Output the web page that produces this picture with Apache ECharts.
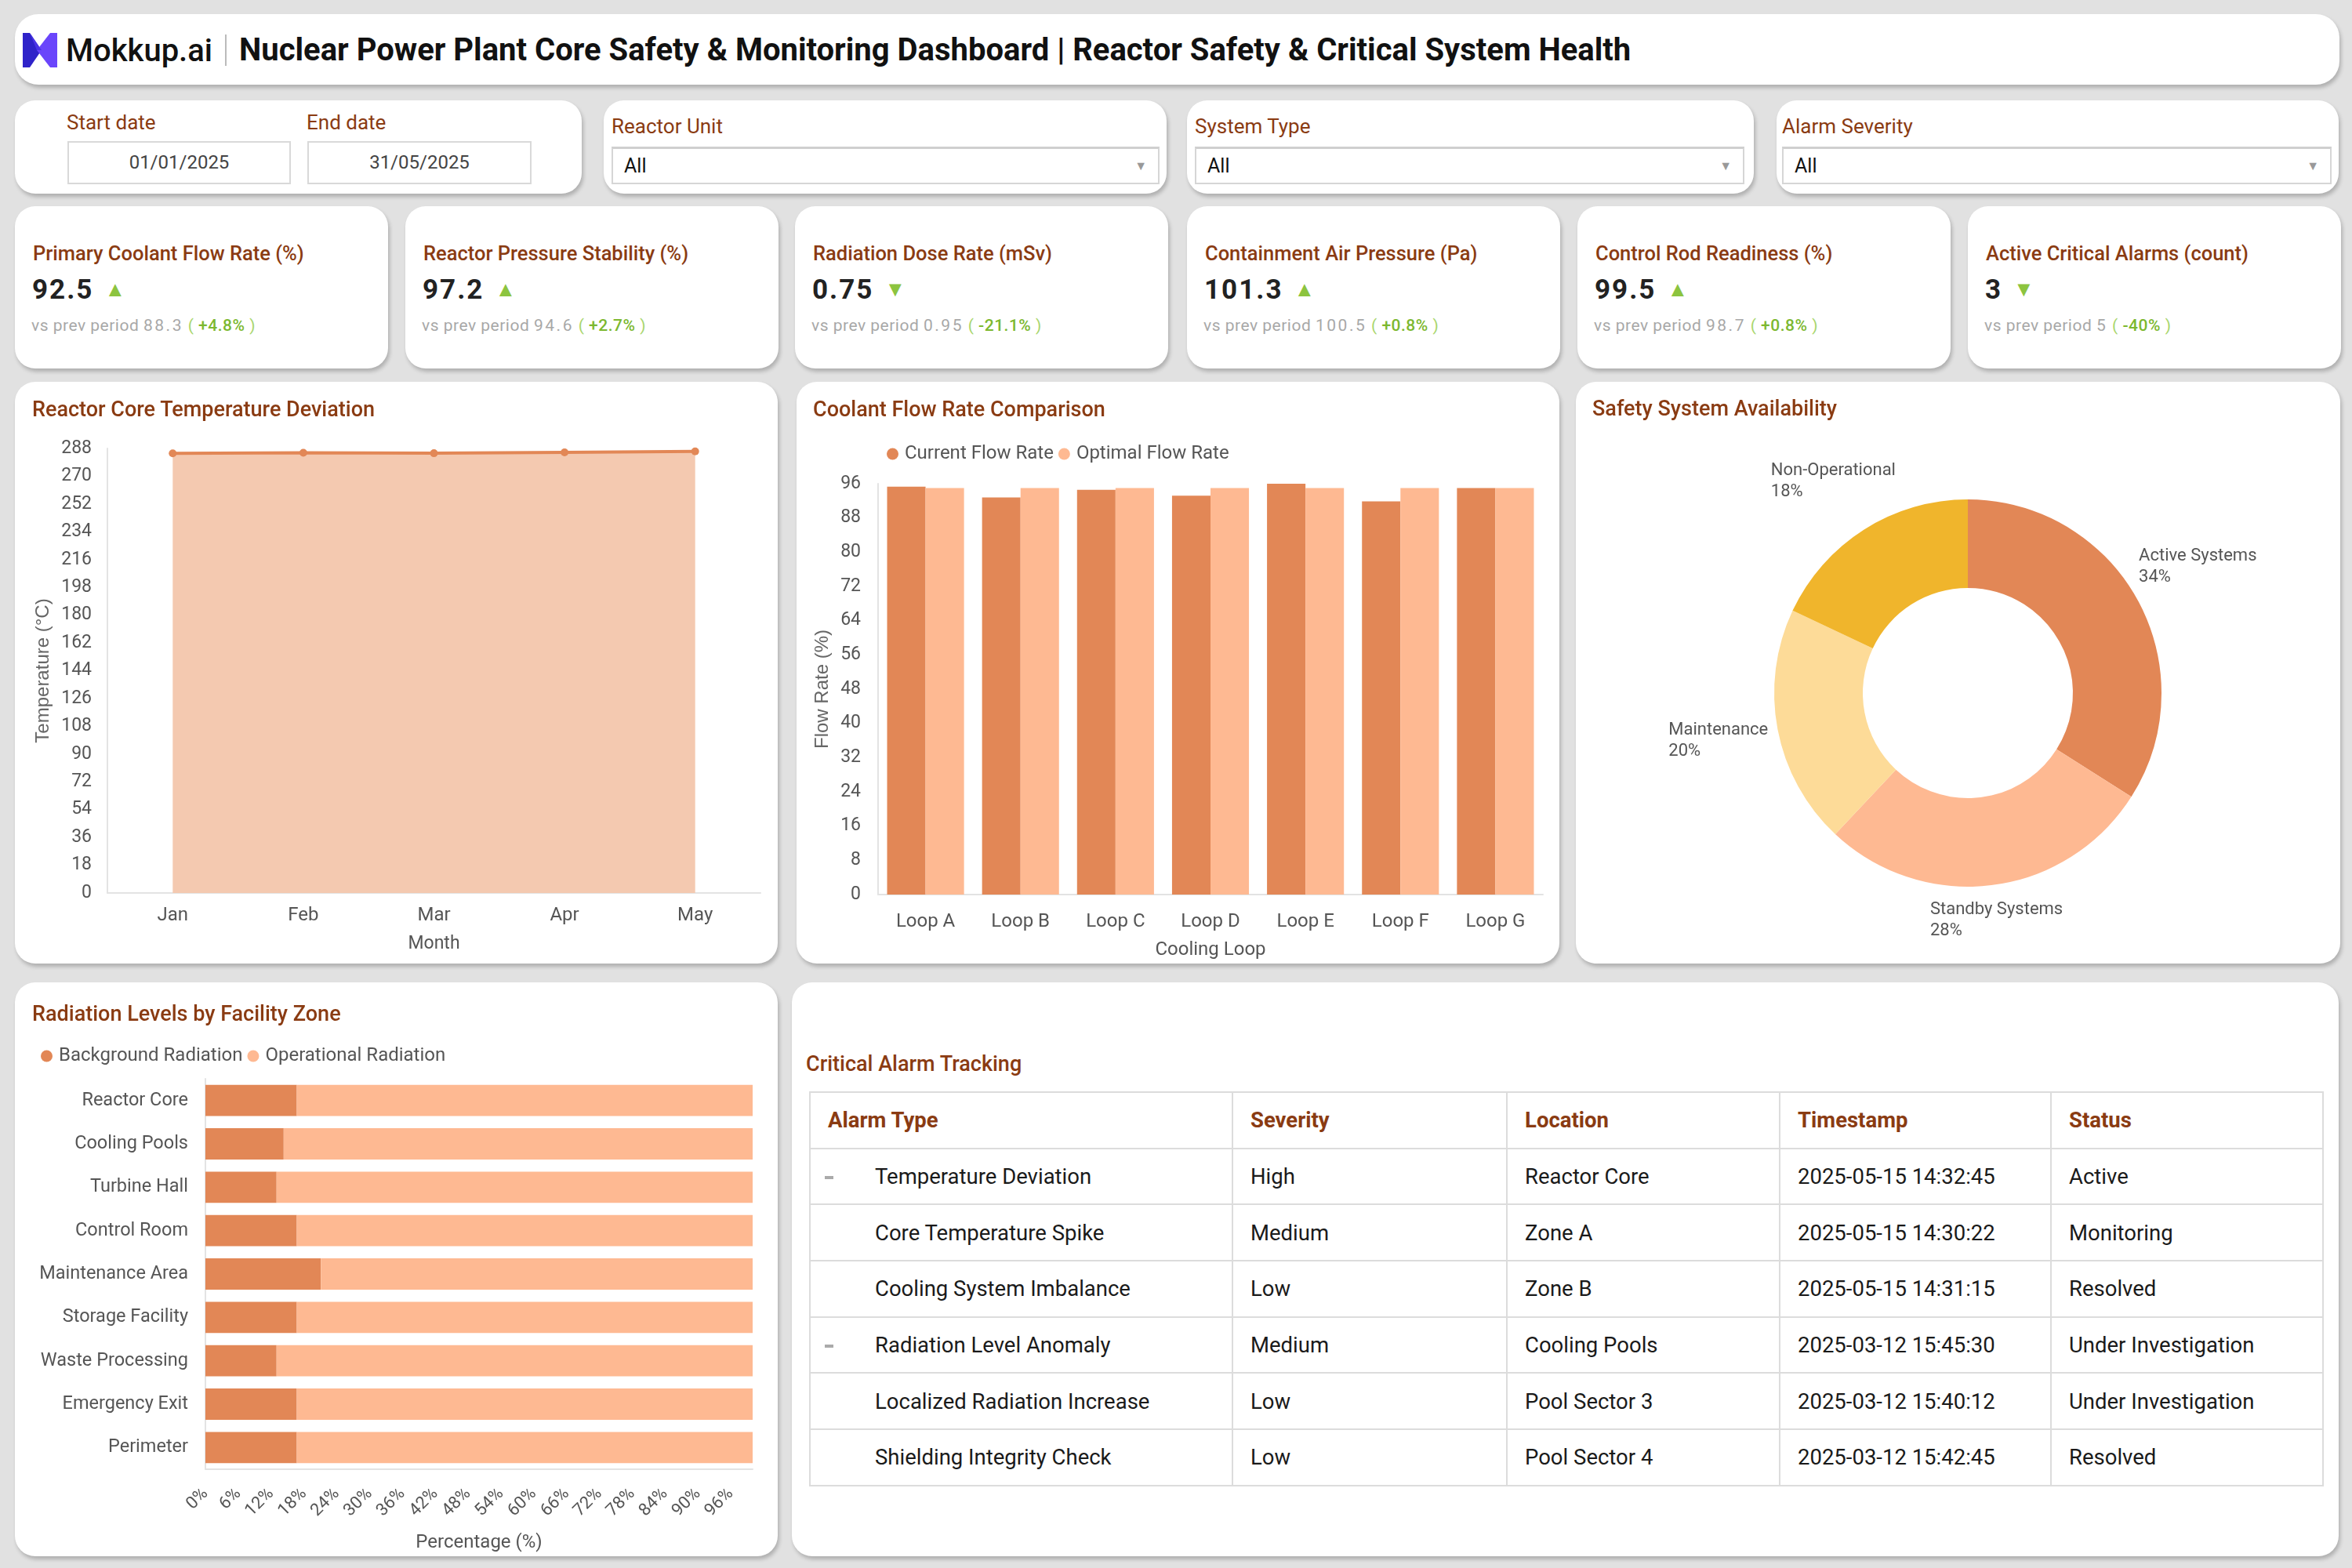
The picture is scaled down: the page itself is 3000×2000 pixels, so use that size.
<!DOCTYPE html>
<html><head><meta charset="utf-8">
<script src="https://cdn.jsdelivr.net/npm/echarts@6/dist/echarts.min.js"></script>
<style>
*{box-sizing:border-box;margin:0;padding:0}
html,body{width:3000px;height:2000px;background:#e1e1e1;font-family:Roboto,sans-serif;overflow:hidden;position:relative}
.card{position:absolute;background:#fff;border-radius:26px;box-shadow:2px 4px 5px rgba(0,0,0,0.22)}
.flabel{position:absolute;font-size:26px;color:#8a3b12;line-height:30px;white-space:nowrap}
.dbox{position:absolute;height:55px;border:2px solid #d9d9d9;font-size:24px;color:#444;text-align:center;line-height:51px}
.sel{position:absolute;height:48px;border:2px solid #d6d6d6;border-top:3px solid #cfcfcf;font-size:25px;color:#111;line-height:44px;padding-left:14px}
.sel .arr{position:absolute;right:14px;top:0;font-size:16px;color:#999}
.ktitle{position:absolute;left:23px;top:46px;font-size:25.5px;font-weight:500;color:#8a3b12;line-height:28px;white-space:nowrap}
.kval{position:absolute;left:22px;top:87px;font-size:35px;font-weight:700;color:#222;line-height:38px;letter-spacing:2px;white-space:nowrap}
.kval .tri{font-size:27px;color:#8cc43f;margin-left:14px;vertical-align:3px;letter-spacing:0}
.ksub{position:absolute;left:21px;top:140px;font-size:21px;color:#a8a8a8;line-height:24px;white-space:nowrap;letter-spacing:0.5px}
.ksub .num{letter-spacing:2.5px}
.ksub .par{color:#a9d66e}
.ksub .chg{color:#7cb82f;font-weight:500;letter-spacing:0.5px}
.ctitle{position:absolute;font-size:27px;font-weight:500;color:#8a3b12;line-height:30px;white-space:nowrap;z-index:2}
.chart{position:absolute;left:0;top:0}
table{border-collapse:collapse;position:absolute;table-layout:fixed}
td,th{border:2px solid #dcdcdc;font-size:27.5px;color:#1a1a1a;text-align:left;font-weight:400;white-space:nowrap;padding-left:22px;position:relative}
th{color:#8a3b12;font-weight:700;height:71.5px}
td{height:71.7px}
td.first{padding-left:82px}
.dash{position:absolute;left:18px;top:34px;width:11px;height:4px;background:#aaa}
</style>
</head><body>

<!-- Header -->
<div class="card" style="left:19px;top:18px;width:2965px;height:90px;border-radius:30px">
  <svg style="position:absolute;left:10px;top:24px" width="44" height="44" viewBox="0 0 44 44">
    <polygon points="0,0 9,0 24,22 9,44 0,44" fill="#2f23c9"/>
    <polygon points="44,0 35,0 18,22 35,44 44,44" fill="#6a45fb"/>
    <polygon points="9,0 24,22 18,22" fill="#4a34e6"/>
  </svg>
  <div style="position:absolute;left:65px;top:23px;font-size:40px;font-weight:500;color:#111;line-height:48px">Mokkup.ai</div>
  <div style="position:absolute;left:268px;top:26px;width:2px;height:40px;background:#bbb"></div>
  <div style="position:absolute;left:286px;top:22px;font-size:40px;font-weight:700;color:#111;line-height:48px;white-space:nowrap">Nuclear Power Plant Core Safety &amp; Monitoring Dashboard | Reactor Safety &amp; Critical System Health</div>
</div>

<!-- Filters -->
<div class="card" style="left:19px;top:128px;width:723px;height:119px">
  <div class="flabel" style="left:66px;top:13px">Start date</div>
  <div class="flabel" style="left:372px;top:13px">End date</div>
  <div class="dbox" style="left:67px;top:52px;width:285px">01/01/2025</div>
  <div class="dbox" style="left:373px;top:52px;width:286px">31/05/2025</div>
</div>
<div id="filters"></div>

<!-- KPIs -->
<div id="kpis"></div>

<!-- Chart cards -->
<div class="card" style="left:19px;top:487px;width:973px;height:742px">
  <div class="ctitle" style="left:22px;top:20px">Reactor Core Temperature Deviation</div>
  <div id="c1" class="chart" style="width:973px;height:742px"></div>
</div>
<div class="card" style="left:1016px;top:487px;width:973px;height:742px">
  <div class="ctitle" style="left:21px;top:20px">Coolant Flow Rate Comparison</div>
  <div id="c2" class="chart" style="width:973px;height:742px"></div>
</div>
<div class="card" style="left:2010px;top:487px;width:975px;height:742px">
  <div class="ctitle" style="left:21px;top:19px">Safety System Availability</div>
  <div id="c3" class="chart" style="width:975px;height:742px"></div>
</div>
<div class="card" style="left:19px;top:1253px;width:973px;height:732px">
  <div class="ctitle" style="left:22px;top:25px">Radiation Levels by Facility Zone</div>
  <div id="c4" class="chart" style="width:973px;height:732px"></div>
</div>
<div class="card" style="left:1010px;top:1253px;width:1973px;height:732px">
  <div class="ctitle" style="left:18px;top:89px">Critical Alarm Tracking</div>
  <div id="tbl"></div>
</div>

<script>
// ---------------- DATA ----------------
const filterLabels = ['Reactor Unit', 'System Type', 'Alarm Severity'];
const filterValues = ['All', 'All', 'All'];

const kpiTitles = ['Primary Coolant Flow Rate (%)', 'Reactor Pressure Stability (%)', 'Radiation Dose Rate (mSv)', 'Containment Air Pressure (Pa)', 'Control Rod Readiness (%)', 'Active Critical Alarms (count)'];
const kpiValues = ['92.5', '97.2', '0.75', '101.3', '99.5', '3'];
const kpiPrev = ['88.3', '94.6', '0.95', '100.5', '98.7', '5'];
const kpiChange = ['+4.8%', '+2.7%', '-21.1%', '+0.8%', '+0.8%', '-40%'];
const kpiUp = [true, true, false, true, true, false];

const months = ['Jan', 'Feb', 'Mar', 'Apr', 'May'];
const coreTemp = [284.8, 285.2, 284.9, 285.5, 286.1];

const loops = ['Loop A', 'Loop B', 'Loop C', 'Loop D', 'Loop E', 'Loop F', 'Loop G'];
const currentFlow = [95.3, 92.8, 94.6, 93.2, 96, 91.9, 95];
const optimalFlow = [95, 95, 95, 95, 95, 95, 95];

const safetyCats = ['Active Systems', 'Standby Systems', 'Maintenance', 'Non-Operational'];
const safetyVals = [34, 28, 20, 18];

const zones = ['Reactor Core', 'Cooling Pools', 'Turbine Hall', 'Control Room', 'Maintenance Area', 'Storage Facility', 'Waste Processing', 'Emergency Exit', 'Perimeter'];
const backgroundRad = [16.7, 14.3, 13.0, 16.7, 21.1, 16.7, 13.0, 16.7, 16.7];
const operationalRad = [83.3, 85.7, 87.0, 83.3, 78.9, 83.3, 87.0, 83.3, 83.3];

const tableHeaders = ['Alarm Type', 'Severity', 'Location', 'Timestamp', 'Status'];
const alarmTypes = ['Temperature Deviation', 'Core Temperature Spike', 'Cooling System Imbalance', 'Radiation Level Anomaly', 'Localized Radiation Increase', 'Shielding Integrity Check'];
const alarmParent = [true, false, false, true, false, false];
const alarmSeverity = ['High', 'Medium', 'Low', 'Medium', 'Low', 'Low'];
const alarmLocation = ['Reactor Core', 'Zone A', 'Zone B', 'Cooling Pools', 'Pool Sector 3', 'Pool Sector 4'];
const alarmTime = ['2025-05-15 14:32:45', '2025-05-15 14:30:22', '2025-05-15 14:31:15', '2025-03-12 15:45:30', '2025-03-12 15:40:12', '2025-03-12 15:42:45'];
const alarmStatus = ['Active', 'Monitoring', 'Resolved', 'Under Investigation', 'Under Investigation', 'Resolved'];

// ---------------- HTML PARTS ----------------
const filterBoxes = [
  {left: 770, width: 718, lx: 10, sx: 10, sw: 699},
  {left: 1514, width: 723, lx: 10, sx: 10, sw: 701},
  {left: 2266, width: 717, lx: 7, sx: 7, sw: 701}
];
let fh = '';
filterBoxes.forEach((b, i) => {
  fh += `<div class="card" style="left:${b.left}px;top:128px;width:${b.width}px;height:119px">
    <div class="flabel" style="left:${b.lx}px;top:18px">${filterLabels[i]}</div>
    <div class="sel" style="left:${b.sx}px;top:59px;width:${b.sw}px">${filterValues[i]}<span class="arr">&#9660;</span></div></div>`;
});
document.getElementById('filters').innerHTML = fh;

const kpiLefts = [19, 517, 1014, 1514, 2012, 2510];
let kh = '';
kpiTitles.forEach((t, i) => {
  kh += `<div class="card" style="left:${kpiLefts[i]}px;top:263px;width:476px;height:207px">
   <div class="ktitle">${t}</div>
   <div class="kval">${kpiValues[i]}<span class="tri">${kpiUp[i] ? '&#9650;' : '&#9660;'}</span></div>
   <div class="ksub">vs prev period <span class="num">${kpiPrev[i]}</span> <span class="par">(</span> <span class="chg">${kpiChange[i]}</span> <span class="par">)</span></div>
  </div>`;
});
document.getElementById('kpis').innerHTML = kh;

const colW = [539, 350, 348, 346, 347];
let th = '<table style="left:22px;top:139px;width:1930px"><colgroup>' + colW.map(w => `<col style="width:${w}px">`).join('') + '</colgroup><tr>';
tableHeaders.forEach(h => th += `<th>${h}</th>`);
th += '</tr>';
alarmTypes.forEach((a, i) => {
  th += `<tr><td class="first">${alarmParent[i] ? '<span class="dash"></span>' : ''}${a}</td><td>${alarmSeverity[i]}</td><td>${alarmLocation[i]}</td><td>${alarmTime[i]}</td><td>${alarmStatus[i]}</td></tr>`;
});
th += '</table>';
document.getElementById('tbl').innerHTML = th;

// ---------------- CHARTS ----------------
const C_DARK = '#e28756', C_LIGHT = '#feb992';
const FONT = 'Roboto';
const axisGrey = '#e3e3e3';

const c1 = echarts.init(document.getElementById('c1'));
c1.setOption({
  textStyle: {fontFamily: FONT},
  animation: false,
  grid: {left: 118, right: 22, top: 85, bottom: 90},
  xAxis: {
    type: 'category', data: months, boundaryGap: true,
    axisLine: {lineStyle: {color: axisGrey, width: 2}}, axisTick: {show: false},
    axisLabel: {color: '#555', fontSize: 24, margin: 17},
    name: 'Month', nameLocation: 'middle', nameGap: 54,
    nameTextStyle: {color: '#555', fontSize: 23}
  },
  yAxis: {
    type: 'value', min: 0, max: 288, interval: 18,
    axisLine: {show: true, lineStyle: {color: axisGrey, width: 2}}, splitLine: {show: false},
    axisLabel: {color: '#555', fontSize: 23, margin: 20},
    name: 'Temperature (°C)', nameLocation: 'middle', nameGap: 70,
    nameTextStyle: {color: '#666', fontSize: 24, fontFamily: 'Liberation Sans'}
  },
  series: [{
    type: 'line', data: coreTemp, symbol: 'circle', symbolSize: 10,
    lineStyle: {color: C_DARK, width: 4}, itemStyle: {color: C_DARK},
    areaStyle: {color: '#f4c9b0', opacity: 1}
  }]
});

const c2 = echarts.init(document.getElementById('c2'));
c2.setOption({
  textStyle: {fontFamily: FONT},
  animation: false,
  legend: {
    top: 75, left: 110, icon: 'circle', itemWidth: 15, itemHeight: 15, itemGap: 6,
    textStyle: {color: '#555', fontSize: 24, padding: [0, 0, 0, 3]},
    data: ['Current Flow Rate', 'Optimal Flow Rate']
  },
  grid: {left: 104, right: 21, top: 130, bottom: 85},
  xAxis: {
    type: 'category', data: loops,
    axisLine: {lineStyle: {color: axisGrey, width: 2}}, axisTick: {show: false},
    axisLabel: {color: '#555', fontSize: 24, margin: 23},
    name: 'Cooling Loop', nameLocation: 'middle', nameGap: 59,
    nameTextStyle: {color: '#555', fontSize: 24}
  },
  yAxis: {
    type: 'value', min: 0, max: 96, interval: 8,
    axisLine: {show: true, lineStyle: {color: axisGrey, width: 2}}, splitLine: {show: false},
    axisLabel: {color: '#555', fontSize: 23, margin: 22},
    name: 'Flow Rate (%)', nameLocation: 'middle', nameGap: 59,
    nameTextStyle: {color: '#666', fontSize: 24, fontFamily: 'Liberation Sans'}
  },
  series: [
    {name: 'Current Flow Rate', type: 'bar', data: currentFlow, itemStyle: {color: C_DARK}, barGap: '0%', barCategoryGap: '19%'},
    {name: 'Optimal Flow Rate', type: 'bar', data: optimalFlow, itemStyle: {color: C_LIGHT}, barGap: '0%', barCategoryGap: '19%'}
  ]
});

const PIE_CX = 500, PIE_CY = 397, PIE_R0 = 134, PIE_R1 = 247;
const pieTotal = safetyVals.reduce((a, b) => a + b, 0);
const c3 = echarts.init(document.getElementById('c3'));
c3.setOption({
  textStyle: {fontFamily: FONT},
  animation: false,
  series: [{
    type: 'pie', center: [PIE_CX, PIE_CY], radius: [PIE_R0, PIE_R1],
    startAngle: 90, clockwise: true, avoidLabelOverlap: false, percentPrecision: 0,
    data: safetyCats.map((n, i) => ({name: n, value: safetyVals[i]})),
    color: ['#e28756', '#feb992', '#fddb98', '#f0b52c'],
    label: {
      show: true, position: 'outside',
      formatter: '{a|{b}}\n{a|{d}%}',
      rich: {a: {fontSize: 22, color: '#555', align: 'left', lineHeight: 27, fontFamily: FONT}}
    },
    labelLine: {show: false},
    emphasis: {disabled: true},
    // place each label just outside the ring along the slice's mid-angle
    labelLayout: function (p) {
      const i = p.dataIndex;
      let before = 0;
      for (let k = 0; k < i; k++) before += safetyVals[k];
      const midDeg = 90 - (before + safetyVals[i] / 2) / pieTotal * 360;
      const a = midDeg * Math.PI / 180;
      const hw = p.labelRect.width / 2, hh = p.labelRect.height / 2;
      const support = hw * Math.abs(Math.cos(a)) + hh * Math.abs(Math.sin(a));
      const R = PIE_R1 + 10 + support;
      return {x: PIE_CX + R * Math.cos(a), y: PIE_CY - R * Math.sin(a), align: 'center', verticalAlign: 'middle'};
    }
  }]
});

const c4 = echarts.init(document.getElementById('c4'));
c4.setOption({
  textStyle: {fontFamily: FONT},
  animation: false,
  legend: {
    top: 77, left: 28, icon: 'circle', itemWidth: 15, itemHeight: 15, itemGap: 6,
    textStyle: {color: '#555', fontSize: 24, padding: [0, 0, 0, 3]},
    data: ['Background Radiation', 'Operational Radiation']
  },
  grid: {left: 243, right: 32, top: 123, bottom: 111},
  yAxis: {
    type: 'category', data: zones, inverse: true,
    axisLine: {lineStyle: {color: axisGrey, width: 2}}, axisTick: {show: false},
    axisLabel: {color: '#555', fontSize: 23.5, margin: 22}
  },
  xAxis: {
    type: 'value', min: 0, max: 100, interval: 6,
    axisLine: {show: true, lineStyle: {color: axisGrey, width: 2}}, splitLine: {show: false},
    axisLabel: {color: '#555', fontSize: 22, rotate: 45, margin: 28, formatter: '{value}%', showMaxLabel: false},
    name: 'Percentage (%)', nameLocation: 'middle', nameGap: 82,
    nameTextStyle: {color: '#555', fontSize: 24}
  },
  series: [
    {name: 'Background Radiation', type: 'bar', stack: 'r', data: backgroundRad, itemStyle: {color: C_DARK}, barCategoryGap: '28%'},
    {name: 'Operational Radiation', type: 'bar', stack: 'r', data: operationalRad, itemStyle: {color: C_LIGHT}, barCategoryGap: '28%'}
  ]
});
</script>
</body></html>
